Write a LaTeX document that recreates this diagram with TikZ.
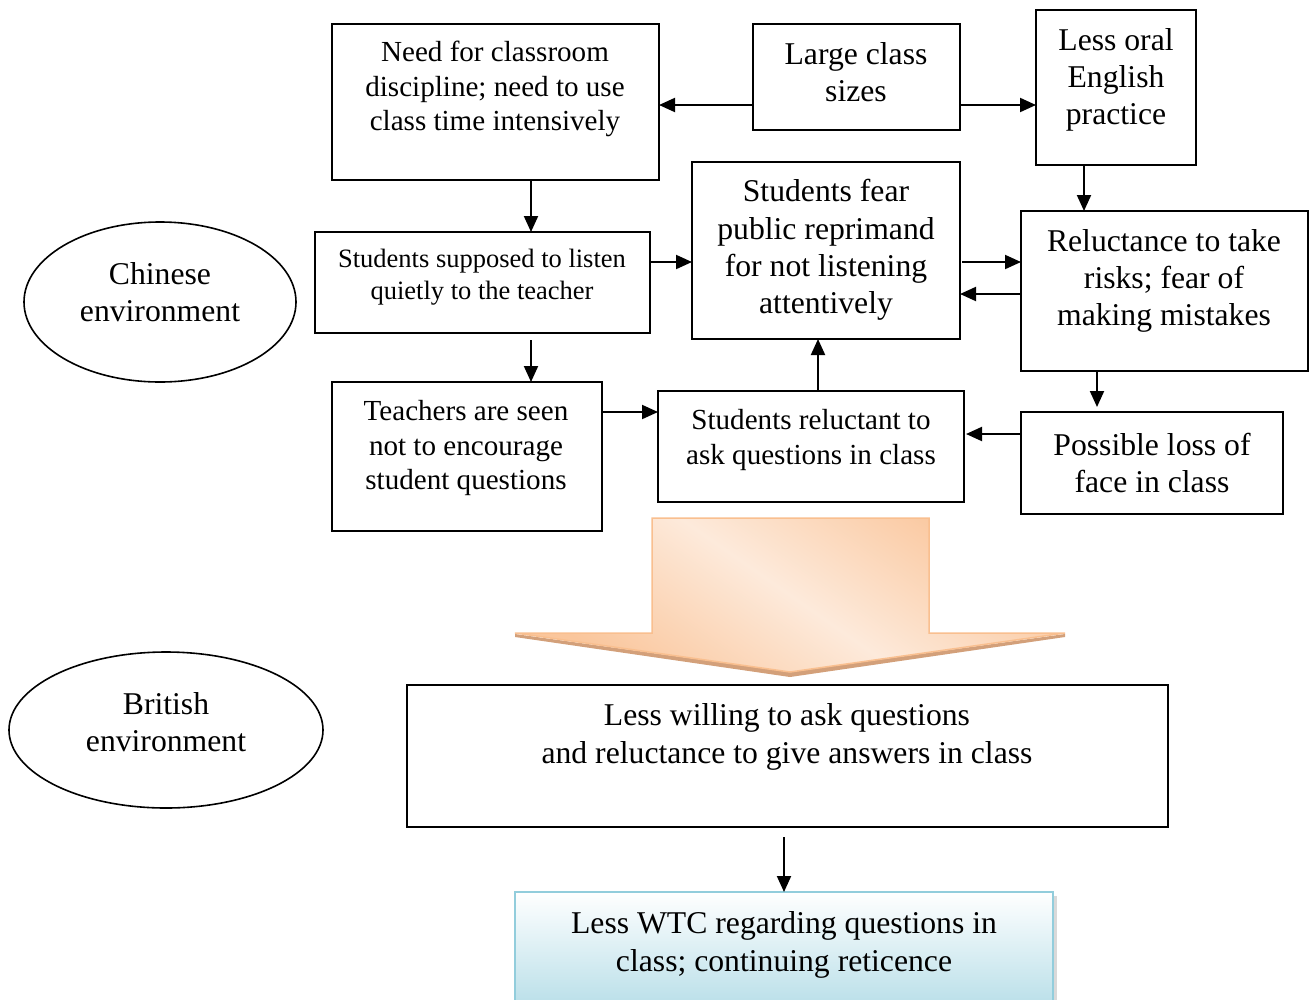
\documentclass[tikz,border=0pt]{standalone}
\usepackage{fontspec}
\setmainfont{Liberation Serif}
\usetikzlibrary{arrows.meta,shadows,shapes.geometric}

\definecolor{arrowline}{HTML}{F9BF8F}
\definecolor{arrowdark}{HTML}{FAC69C}
\definecolor{arrowlight}{HTML}{FDEADB}
\definecolor{arrowshadow}{HTML}{D3A07A}
\definecolor{wtcline}{HTML}{92CDDC}
\definecolor{wtcfill}{HTML}{B7DEE8}

\newcommand\txtL{\fontsize{31.8}{37.5}\selectfont}
\newcommand\txtM{\fontsize{29.2}{34.5}\selectfont}
\newcommand\txtS{\fontsize{26.6}{32}\selectfont}

\tikzset{
  box/.style={draw, line width=2bp, rectangle, inner sep=0pt, outer sep=0pt},
  oval/.style={draw, line width=1.6bp, ellipse, inner sep=0pt, outer sep=0pt},
  txt/.style={align=center, inner sep=0pt, font=\txtL},
  txtmid/.style={txt, font=\txtM},
  txtsmall/.style={txt, font=\txtS},
  link/.style={line width=2bp, -{Triangle[length=16bp,width=14bp]}},
}

\begin{document}
\begin{tikzpicture}[x=1bp,y=-1bp]
\useasboundingbox (0,0) rectangle (1311,999);
\clip (0,0) rectangle (1311,999);

% --- boxes of the Chinese environment
\node[box, minimum width=327bp, minimum height=156bp] (need)   at (495.5,102)  {};
\node[box, minimum width=207bp, minimum height=106bp] (large)  at (856.5,77)   {};
\node[box, minimum width=160bp, minimum height=155bp] (oral)   at (1116,87.5)  {};
\node[box, minimum width=335bp, minimum height=101bp] (listen) at (482.5,282.5){};
\node[box, minimum width=268bp, minimum height=177bp] (fear)   at (826,250.5)  {};
\node[box, minimum width=287bp, minimum height=160bp] (risk)   at (1164.5,291) {};
\node[box, minimum width=270bp, minimum height=149bp] (teach)  at (467,456.5)  {};
\node[box, minimum width=306bp, minimum height=111bp] (ask)    at (811,446.5)  {};
\node[box, minimum width=262bp, minimum height=102bp] (face)   at (1152,463)   {};

\node[txtmid]   (needT)   at (495,89)   {Need for classroom\\discipline; need to use\\class time intensively};
\node[txt]      (largeT)  at (856,72)   {Large class\\sizes};
\node[txt]      (oralT)   at (1116,80)  {Less oral\\English\\practice};
\node[txtsmall] (listenT) at (482,277)  {Students supposed to listen\\quietly to the teacher};
\node[txt]      (fearT)   at (826,250)  {Students fear\\public reprimand\\for not listening\\attentively};
\node[txt]      (riskT)   at (1164,281) {Reluctance to take\\risks; fear of\\making mistakes};
\node[txtmid]   (teachT)  at (466,448)  {Teachers are seen\\not to encourage\\student questions};
\node[txtmid]   (askT)    at (811,440)  {Students reluctant to\\ask questions in class};
\node[txt]      (faceT)   at (1152,463) {Possible loss of\\face in class};

% --- environments
\node[oval, minimum width=272bp, minimum height=160bp] (chinese) at (160,302) {};
\node[txt] (chineseT) at (160,292) {Chinese\\environment};
\node[oval, minimum width=314bp, minimum height=156bp] (british) at (166,730) {};
\node[txt] (britishT) at (166,722) {British\\environment};

% --- connectors
\draw[link] (large.west |- 0,105) -- (need.east |- 0,105);
\draw[link] (large.east |- 0,105) -- (oral.west |- 0,105);
\draw[link] (need.south -| 531,0) -- (listen.north -| 531,0);
\draw[link] (oral.south -| 1084,0) -- (risk.north -| 1084,0);
\draw[link] (listen.east |- 0,262) -- (fear.west |- 0,262);
\draw[link, shorten <=2bp] (fear.east |- 0,262) -- (risk.west |- 0,262);
\draw[link] (risk.west |- 0,294) -- (fear.east |- 0,294);
\draw[link, shorten <=7bp] (listen.south -| 531,0) -- (teach.north -| 531,0);
\draw[link] (teach.east |- 0,412) -- (ask.west |- 0,412);
\draw[link] (ask.north -| 818,0) -- (fear.south -| 818,0);
\draw[link, shorten >=5bp] (risk.south -| 1097,0) -- (face.north -| 1097,0);
\draw[link, shorten >=2bp] (face.west |- 0,434) -- (ask.east |- 0,434);

% --- broad downward arrow
\fill[arrowshadow]
  (515,637) -- (790,677) -- (1065,637) -- (1065,634) -- (790,672) -- (515,634) -- cycle;
\path[draw=arrowline, line width=1.5bp,
      top color=arrowdark, bottom color=arrowdark, middle color=arrowlight,
      shading angle=-35]
  (652,518) -- (929,518) -- (929,633) -- (1065,633) -- (790,672)
  -- (515,633) -- (652,633) -- cycle;

% --- outcomes in the British environment
\node[box, minimum width=761bp, minimum height=142bp] (willing) at (787.5,756) {};
\node[txt] (willingT) at (787,737)
  {Less willing to ask questions\\and reluctance to give answers in class};

\node[box, draw=wtcline, top color=white, bottom color=wtcfill,
      drop shadow={shadow xshift=4bp, shadow yshift=-4bp, opacity=0.3},
      minimum width=538bp, minimum height=118bp] (wtc) at (784,951) {};
\node[txt] (wtcT) at (784,945) {Less WTC regarding questions in\\class; continuing reticence};

\draw[link, shorten <=10bp] (willing.south -| 784,0) -- (wtc.north -| 784,0);
\end{tikzpicture}
\end{document}
